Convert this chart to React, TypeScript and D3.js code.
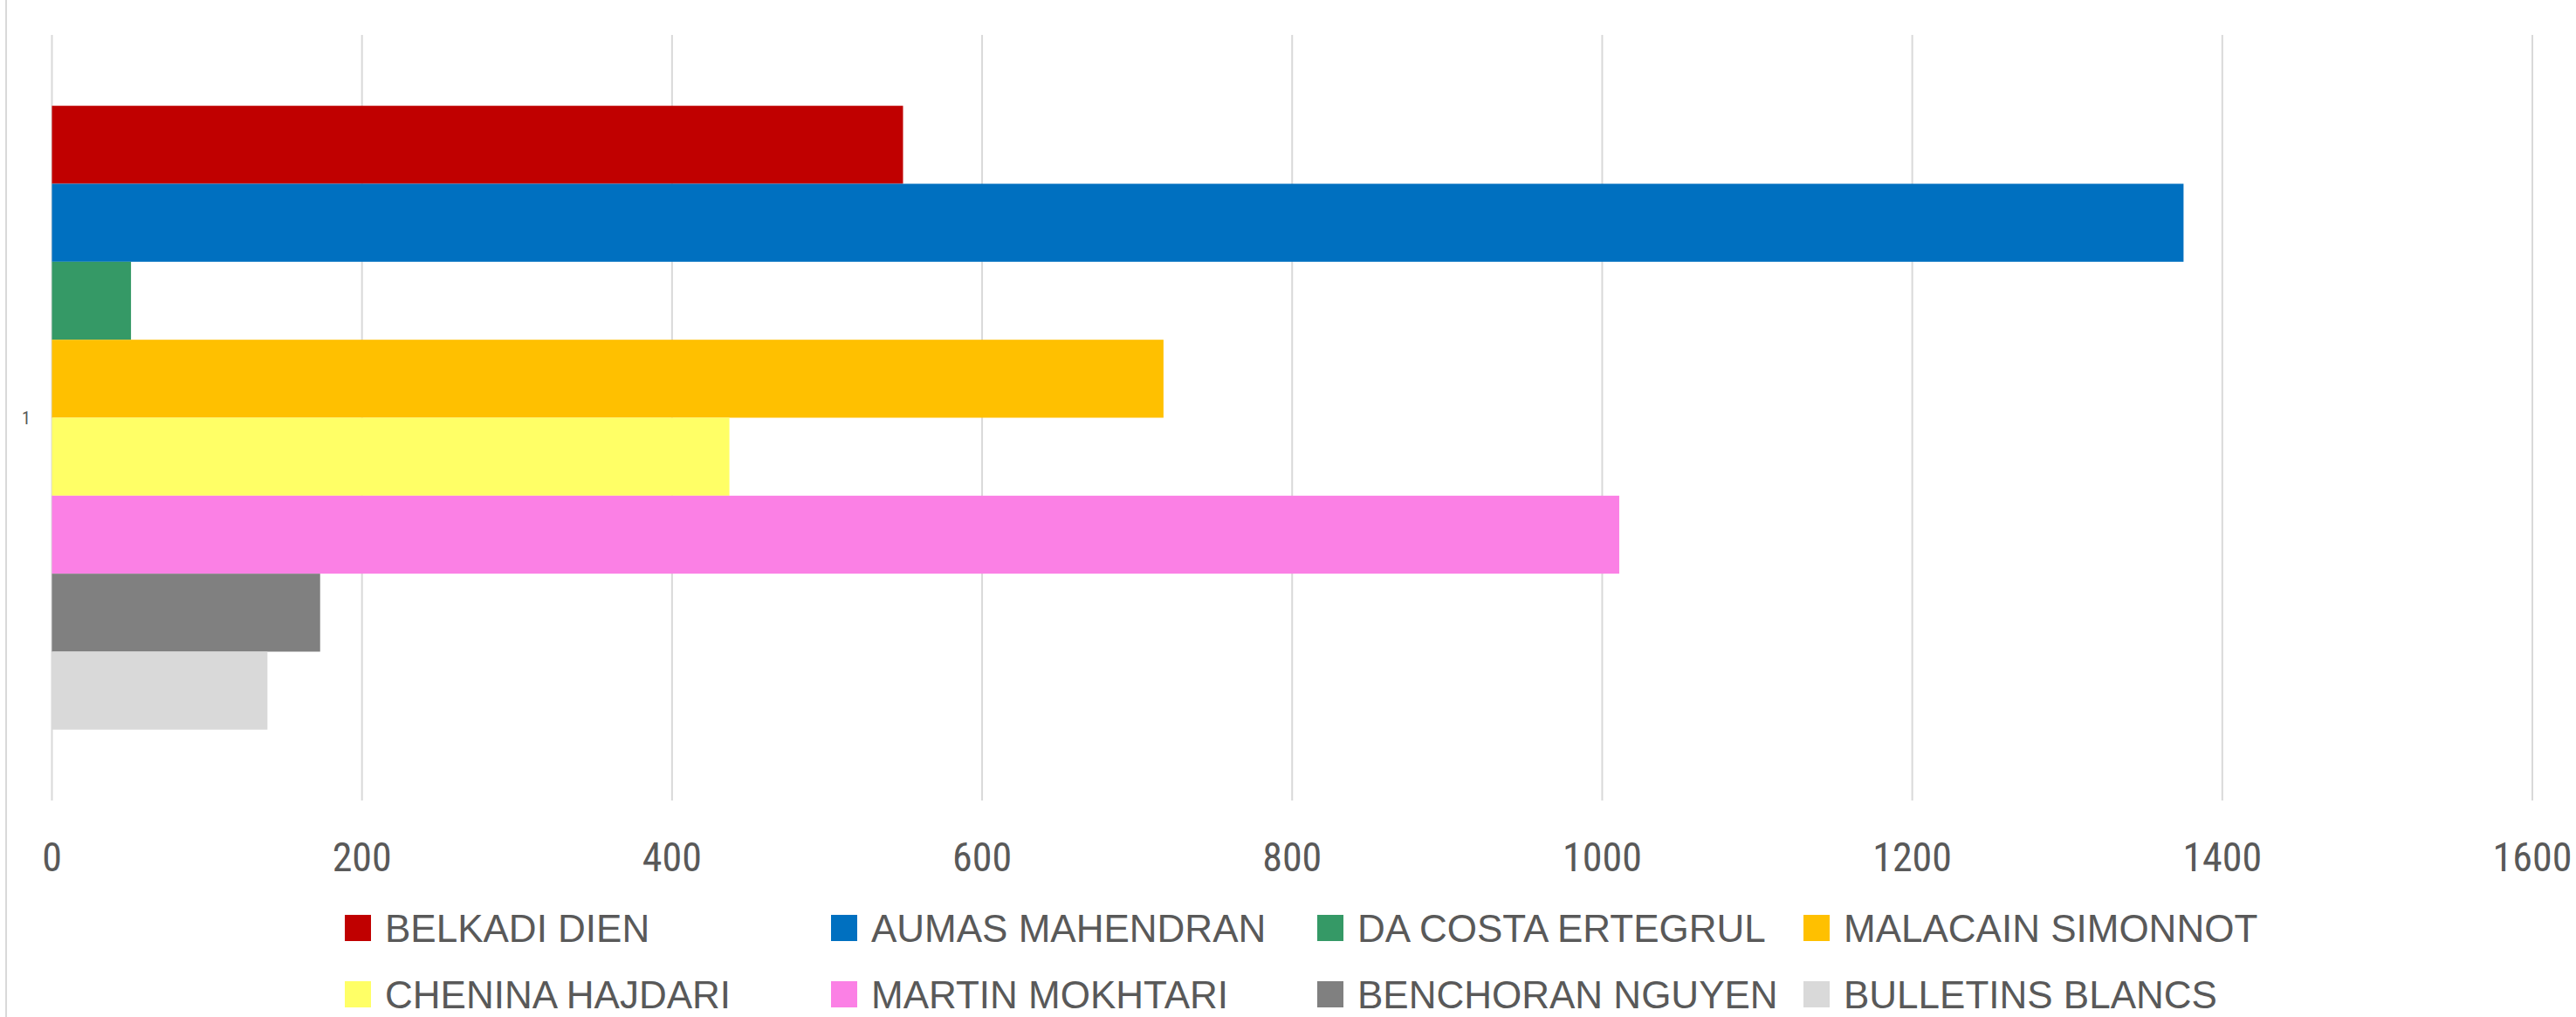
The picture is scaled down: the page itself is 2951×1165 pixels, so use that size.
import React from "react";
import * as d3 from "d3";

const categories = ["1"];
const seriesNames = [
  "BELKADI DIEN",
  "AUMAS MAHENDRAN",
  "DA COSTA ERTEGRUL",
  "MALACAIN SIMONNOT",
  "CHENINA HAJDARI",
  "MARTIN MOKHTARI",
  "BENCHORAN NGUYEN",
  "BULLETINS BLANCS",
];
const seriesValues = [549, 1375, 51, 717, 437, 1011, 173, 139];
const seriesColors = [
  "#C00000",
  "#0070C0",
  "#359966",
  "#FFC000",
  "#FFFF66",
  "#FB80E5",
  "#808080",
  "#D9D9D9",
];
const xTicks = [0, 200, 400, 600, 800, 1000, 1200, 1400, 1600];

const W = 2951;
const H = 1165;
const plot = { left: 59.5, right: 2901, top: 40, bottom: 917 };
const FONT = "'Liberation Sans Narrow', 'Roboto Condensed', 'Liberation Sans', sans-serif";
const LEGEND_FONT = "'Liberation Sans', Arial, sans-serif";
const TEXT = "#595959";
const GRID = "#D9D9D9";

export default function App() {
  const x = d3.scaleLinear().domain([0, 1600]).range([plot.left, plot.right]);
  const y0 = d3
    .scaleBand<string>()
    .domain(categories)
    .range([plot.top, plot.bottom])
    .paddingInner(0)
    .paddingOuter(0.1136);
  const y1 = d3
    .scaleBand<string>()
    .domain(seriesNames)
    .range([0, y0.bandwidth()]);

  const legendCols = [395, 952, 1509, 2066];
  const legendRows = [1079, 1155];

  return (
    <svg
      width={W}
      height={H}
      style={{ position: "absolute", left: 0, top: 0, background: "#fff" }}
      fontFamily={FONT}
    >
      <rect x={0} y={0} width={W} height={H} fill="#fff" />
      <line x1={7} x2={7} y1={0} y2={H} stroke={GRID} strokeWidth={2} />
      {xTicks.map((t) => (
        <g key={t}>
          <line
            x1={x(t)}
            x2={x(t)}
            y1={plot.top}
            y2={plot.bottom}
            stroke={GRID}
            strokeWidth={2}
          />
          <text
            x={x(t)}
            y={998}
            textAnchor="middle"
            fontSize={46}
            fill={TEXT}
          >
            {t}
          </text>
        </g>
      ))}
      {categories.map((c) => (
        <g key={c}>
          {seriesNames.map((s, i) => (
            <rect
              key={s}
              x={x(0)}
              y={(y0(c) as number) + (y1(s) as number)}
              width={x(seriesValues[i]) - x(0)}
              height={y1.bandwidth()}
              fill={seriesColors[i]}
            />
          ))}
          <text
            x={30}
            y={(y0(c) as number) + y0.bandwidth() / 2 + 7}
            textAnchor="middle"
            fontSize={20}
            fill={TEXT}
          >
            {c}
          </text>
        </g>
      ))}
      {seriesNames.map((s, i) => {
        const col = i % 4;
        const row = Math.floor(i / 4);
        const lx = legendCols[col];
        const ly = legendRows[row];
        return (
          <g key={s}>
            <rect x={lx} y={ly - 31} width={30} height={30} fill={seriesColors[i]} />
            <text
              x={lx + 46}
              y={ly}
              fontSize={44}
              fontFamily={LEGEND_FONT}
              fill={TEXT}
            >
              {s}
            </text>
          </g>
        );
      })}
    </svg>
  );
}
